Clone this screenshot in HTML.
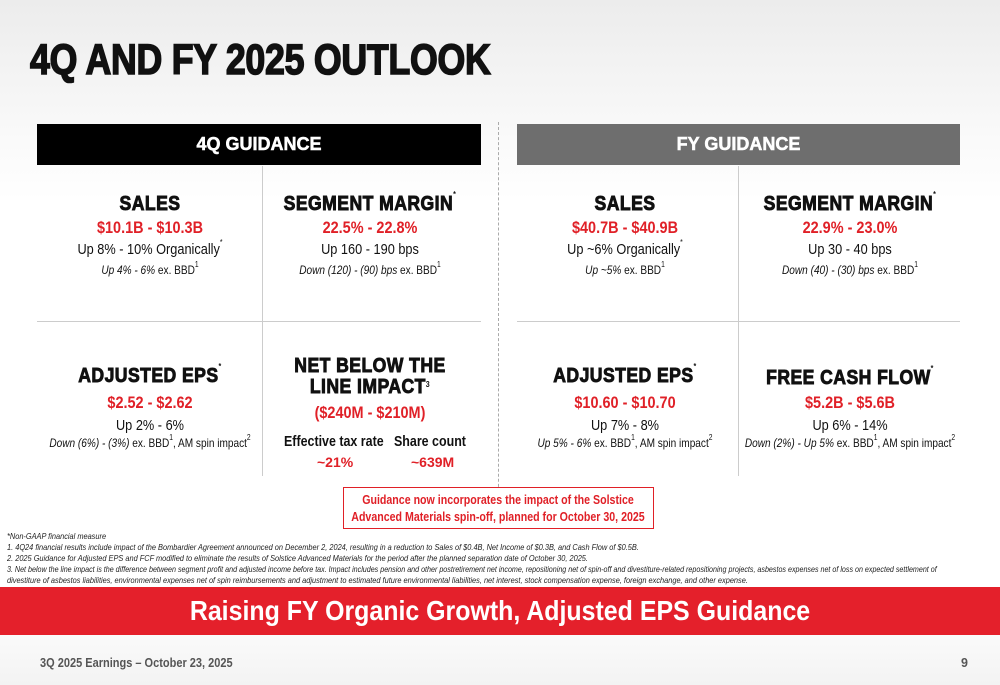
<!DOCTYPE html>
<html><head><meta charset="utf-8"><style>
*{margin:0;padding:0;box-sizing:border-box}
body{width:1000px;height:685px;overflow:hidden;position:relative;font-family:"Liberation Sans",sans-serif;background:linear-gradient(#ececec 0px,#f8f8f8 120px,#fff 200px,#fff 600px,#f3f3f3 685px);color:#111}
.a{position:absolute;white-space:nowrap}
.c{position:absolute;width:300px;text-align:center;white-space:nowrap;transform:scaleX(.85)}
.h{font-weight:bold;font-size:20px;transform:scaleX(.88);-webkit-text-stroke:.9px #111;letter-spacing:.5px}
.r{color:#e02027;font-weight:bold;font-size:17px}
.u{font-size:15px}
.i{font-size:12px;transform:scaleX(.84)}
.i em{font-style:italic}
sup{font-size:8px;vertical-align:top;position:relative;top:-3px;-webkit-text-stroke:0}
.fn{position:absolute;left:7px;font-size:8.3px;font-style:italic;color:#222;white-space:nowrap;transform-origin:left;transform:scaleX(.89)}
</style></head><body>
<div class="a" style="left:30px;top:36px;font-weight:bold;font-size:43px;transform:scaleX(.83);transform-origin:left;-webkit-text-stroke:1.6px #111;letter-spacing:-.3px">4Q AND FY 2025 OUTLOOK</div>

<div class="a" style="left:37px;top:124px;width:444px;height:41px;background:#000;color:#fff;text-align:center;line-height:41px;font-weight:bold;font-size:18px;-webkit-text-stroke:.5px #fff">4Q GUIDANCE</div>
<div class="a" style="left:517px;top:124px;width:443px;height:41px;background:#6e6e6e;color:#fff;text-align:center;line-height:41px;font-weight:bold;font-size:18px;-webkit-text-stroke:.5px #fff">FY GUIDANCE</div>

<div class="a" style="left:498px;top:122px;height:400px;border-left:1px dashed #aaa"></div>
<div class="a" style="left:262px;top:166px;height:310px;border-left:1px solid #ccc"></div>
<div class="a" style="left:738px;top:166px;height:310px;border-left:1px solid #ccc"></div>
<div class="a" style="left:37px;top:321px;width:444px;border-top:1px solid #ccc"></div>
<div class="a" style="left:517px;top:321px;width:443px;border-top:1px solid #ccc"></div>

<div class="c h" style="left:0;top:193px">SALES</div>
<div class="c r" style="left:0;top:218px">$10.1B - $10.3B</div>
<div class="c u" style="left:0;top:241px">Up 8% - 10% Organically<sup>*</sup></div>
<div class="c i" style="left:0;top:263px"><em>Up 4% - 6%</em> ex. BBD<sup>1</sup></div>

<div class="c h" style="left:220px;top:193px">SEGMENT MARGIN<sup>*</sup></div>
<div class="c r" style="left:220px;top:218px">22.5% - 22.8%</div>
<div class="c u" style="left:220px;top:241px">Up 160 - 190 bps</div>
<div class="c i" style="left:220px;top:263px"><em>Down (120) - (90) bps</em> ex. BBD<sup>1</sup></div>

<div class="c h" style="left:475px;top:193px">SALES</div>
<div class="c r" style="left:475px;top:218px">$40.7B - $40.9B</div>
<div class="c u" style="left:475px;top:241px">Up ~6% Organically<sup>*</sup></div>
<div class="c i" style="left:475px;top:263px"><em>Up ~5%</em> ex. BBD<sup>1</sup></div>

<div class="c h" style="left:700px;top:193px">SEGMENT MARGIN<sup>*</sup></div>
<div class="c r" style="left:700px;top:218px">22.9% - 23.0%</div>
<div class="c u" style="left:700px;top:241px">Up 30 - 40 bps</div>
<div class="c i" style="left:700px;top:263px"><em>Down (40) - (30) bps</em> ex. BBD<sup>1</sup></div>

<div class="c h" style="left:0;top:365px">ADJUSTED EPS<sup>*</sup></div>
<div class="c r" style="left:0;top:393px">$2.52 - $2.62</div>
<div class="c u" style="left:0;top:417px">Up 2% - 6%</div>
<div class="c i" style="left:0;top:436px"><em>Down (6%) - (3%)</em> ex. BBD<sup>1</sup>, AM spin impact<sup>2</sup></div>

<div class="c h" style="left:220px;top:356px;line-height:21px">NET BELOW THE<br>LINE IMPACT<sup>3</sup></div>
<div class="c r" style="left:220px;top:403px">($240M - $210M)</div>
<div class="a" style="left:284px;top:433px;font-size:15px;font-weight:bold;transform:scaleX(.83);transform-origin:left">Effective tax rate</div>
<div class="a" style="left:394px;top:433px;font-size:15px;font-weight:bold;transform:scaleX(.83);transform-origin:left">Share count</div>
<div class="a r" style="left:317px;top:454px;font-size:14px">~21%</div>
<div class="a r" style="left:411px;top:454px;font-size:14px">~639M</div>

<div class="c h" style="left:475px;top:365px">ADJUSTED EPS<sup>*</sup></div>
<div class="c r" style="left:475px;top:393px">$10.60 - $10.70</div>
<div class="c u" style="left:475px;top:417px">Up 7% - 8%</div>
<div class="c i" style="left:475px;top:436px"><em>Up 5% - 6%</em> ex. BBD<sup>1</sup>, AM spin impact<sup>2</sup></div>

<div class="c h" style="left:700px;top:367px">FREE CASH FLOW<sup>*</sup></div>
<div class="c r" style="left:700px;top:393px">$5.2B - $5.6B</div>
<div class="c u" style="left:700px;top:417px">Up 6% - 14%</div>
<div class="c i" style="left:700px;top:436px"><em>Down (2%) - Up 5%</em> ex. BBD<sup>1</sup>, AM spin impact<sup>2</sup></div>

<div class="a" style="left:343px;top:487px;width:311px;height:42px;border:1.5px solid #e02027;background:#fff"></div>
<div class="c" style="left:298px;width:400px;top:492px;color:#e02027;font-weight:bold;font-size:12.5px;line-height:17px">Guidance now incorporates the impact of the Solstice<br>Advanced Materials spin-off, planned for October 30, 2025</div>

<div class="fn" style="top:531px">*Non-GAAP financial measure</div>
<div class="fn" style="top:542px">1. 4Q24 financial results include impact of the Bombardier Agreement announced on December 2, 2024, resulting in a reduction to Sales of $0.4B, Net Income of $0.3B, and Cash Flow of $0.5B.</div>
<div class="fn" style="top:553px">2. 2025 Guidance for Adjusted EPS and FCF modified to eliminate the results of Solstice Advanced Materials for the period after the planned separation date of October 30, 2025.</div>
<div class="fn" style="top:564px;transform:scaleX(.86)">3. Net below the line impact is the difference between segment profit and adjusted income before tax. Impact includes pension and other postretirement net income, repositioning net of spin-off and divestiture-related repositioning projects, asbestos expenses net of loss on expected settlement of</div>
<div class="fn" style="top:575px">divestiture of asbestos liabilities, environmental expenses net of spin reimbursements and adjustment to estimated future environmental liabilities, net interest, stock compensation expense, foreign exchange, and other expense.</div>

<div class="a" style="left:0;top:587px;width:1000px;height:48px;background:#e4202b"></div>
<div class="a" style="left:0;top:587px;width:1000px;text-align:center;color:#fff;font-weight:bold;font-size:28px;line-height:48px;transform:scaleX(.89)">Raising FY Organic Growth, Adjusted EPS Guidance</div>

<div class="a" style="left:40px;top:656px;font-size:12.5px;font-weight:bold;color:#555;transform:scaleX(.88);transform-origin:left">3Q 2025 Earnings – October 23, 2025</div>
<div class="a" style="left:961px;top:656px;font-size:12.5px;font-weight:bold;color:#555">9</div>
</body></html>
